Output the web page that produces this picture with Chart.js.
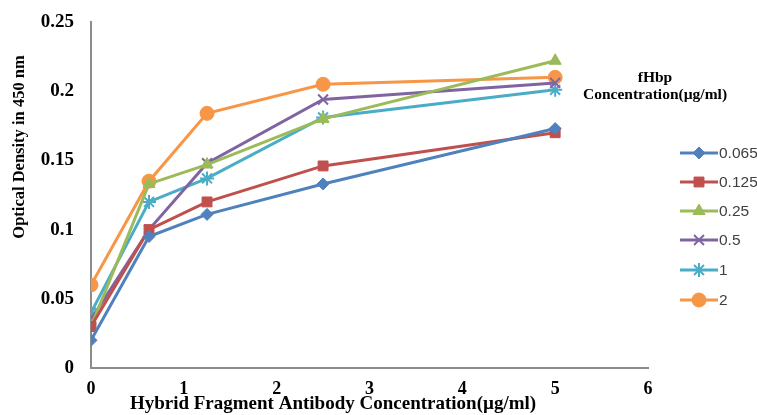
<!DOCTYPE html>
<html>
<head>
<meta charset="utf-8">
<script src="https://cdn.jsdelivr.net/npm/chart.js@4"></script>
<style>
  html, body { margin: 0; padding: 0; background: #fff; }
  #wrap { width: 757px; height: 415px; }
</style>
</head>
<body>
<div id="wrap"><canvas id="odChart" width="757" height="415"></canvas></div>
<script>
// antibody concentration (x) and OD values for each fHbp concentration
const antibodyConc = [0, 0.625, 1.25, 2.5, 5];
const seriesNames = ["0.065", "0.125", "0.25", "0.5", "1", "2"];
const od0065 = [0.020, 0.095, 0.111, 0.133, 0.173];
const od0125 = [0.030, 0.100, 0.120, 0.146, 0.170];
const od025 = [0.030, 0.133, 0.147, 0.180, 0.222];
const od05 = [0.035, 0.100, 0.148, 0.194, 0.206];
const od1 = [0.040, 0.120, 0.137, 0.181, 0.201];
const od2 = [0.060, 0.135, 0.184, 0.205, 0.210];
const xTicks = [0, 1, 2, 3, 4, 5, 6];
const yTicks = [0, 0.05, 0.1, 0.15, 0.2, 0.25];

const colors = ["#4F81BD", "#C0504D", "#9BBB59", "#8064A2", "#4BACC6", "#F79646"];
const markers = ["rectRot", "rect", "triangle", "crossRot", "star", "circle"];
const markerSize = [6, 7, 7, 7, 7, 7];
const allValues = [od0065, od0125, od025, od05, od1, od2];

const serif = "'Liberation Serif', 'Times New Roman', serif";

const datasets = allValues.map((vals, i) => ({
  label: seriesNames[i],
  data: vals.map((v, k) => ({ x: antibodyConc[k], y: v })),
  borderColor: colors[i],
  backgroundColor: colors[i],
  borderWidth: 3,
  pointStyle: markers[i],
  pointRadius: markerSize[i],
  pointBorderWidth: (markers[i] === "crossRot" || markers[i] === "star") ? 2 : 1,
  pointBorderColor: colors[i],
  pointBackgroundColor: colors[i],
  tension: 0,
}));

// & axis titles + legend on the right, placed like the Excel one
const sideLegend = {
  id: "sideLegend",
  afterDraw(chart) {
    const ctx = chart.ctx;
    ctx.save();
    ctx.fillStyle = "#000";
    ctx.textAlign = "center";
    ctx.textBaseline = "middle";

    ctx.font = "bold 19px " + serif;
    ctx.fillText("Hybrid Fragment Antibody Concentration(\u00b5g/ml)", 333, 404);

    ctx.save();
    ctx.translate(20, 147);
    ctx.rotate(-Math.PI / 2);
    ctx.font = "bold 16.5px " + serif;
    ctx.fillText("Optical Density in 450 nm", 0, 0);
    ctx.restore();

    ctx.font = "bold 15.5px " + serif;
    ctx.fillText("fHbp", 655, 78);
    ctx.fillText("Concentration(\u00b5g/ml)", 655, 95);

    const rowY = [153, 182, 211, 240, 270, 300];
    chart.data.datasets.forEach((ds, i) => {
      const y = rowY[i];
      ctx.strokeStyle = ds.borderColor;
      ctx.lineWidth = 3;
      ctx.beginPath();
      ctx.moveTo(680, y);
      ctx.lineTo(718, y);
      ctx.stroke();
      ctx.fillStyle = ds.backgroundColor;
      ctx.lineWidth = ds.pointBorderWidth;
      Chart.helpers.drawPoint(ctx, { pointStyle: ds.pointStyle, radius: ds.pointRadius, borderWidth: ds.pointBorderWidth }, 699, y);
      ctx.fillStyle = "#404040";
      ctx.font = "15.5px 'Liberation Sans', Arial, sans-serif";
      ctx.textAlign = "left";
      ctx.fillText(ds.label, 719, y + 1);
    });
    ctx.restore();
  }
};

new Chart(document.getElementById("odChart"), {
  type: "line",
  data: { datasets: datasets },
  plugins: [sideLegend],
  options: {
    responsive: false,
    animation: false,
    layout: { padding: { left: 0, right: 109, top: 22, bottom: 0 } },
    plugins: { legend: { display: false }, tooltip: { enabled: false } },
    scales: {
      x: {
        type: "linear",
        min: 0,
        max: 6,
        afterBuildTicks: (s) => { s.ticks = xTicks.map((v) => ({ value: v })); },
        afterFit: (s) => { s.height = 47; s.paddingLeft = 0; s.paddingRight = 0; },
        grid: { display: false, drawTicks: false },
        border: { display: true, color: "#8C8C8C", width: 2 },
        ticks: {
          color: "#000",
          padding: 11,
          font: { family: serif, size: 18, weight: "bold" },
        },
      },
      y: {
        min: 0,
        max: 0.25,
        afterBuildTicks: (s) => { s.ticks = yTicks.map((v) => ({ value: v })); },
        afterFit: (s) => { s.width = 91; s.paddingTop = 0; s.paddingBottom = 0; },
        grid: { display: false, drawTicks: false },
        border: { display: true, color: "#8C8C8C", width: 2 },
        ticks: {
          color: "#000",
          padding: 17,
          font: { family: serif, size: 19, weight: "bold" },
          callback: (v) => String(+v.toFixed(3)),
        },
      },
    },
  },
});
</script>
</body>
</html>
